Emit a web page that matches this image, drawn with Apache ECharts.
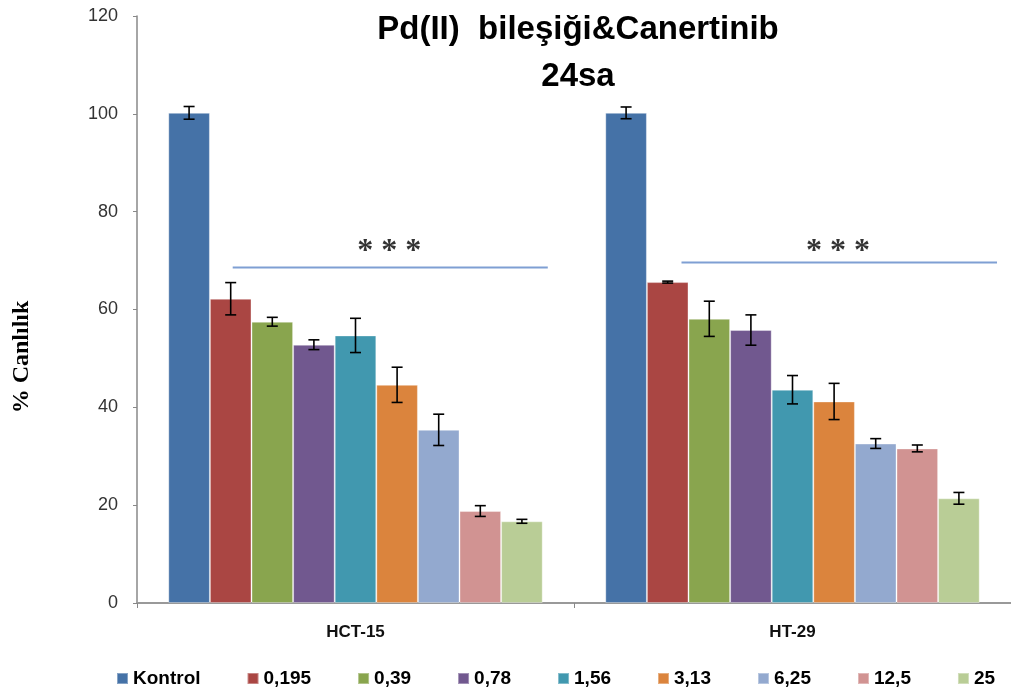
<!DOCTYPE html>
<html><head><meta charset="utf-8">
<script src="https://cdn.jsdelivr.net/npm/echarts@6/dist/echarts.min.js"></script>
<style>html,body{margin:0;padding:0;background:#fff}#c{width:1011px;height:695px}</style>
</head><body><div id="c"></div>
<script>
const categories = ['HCT-15', 'HT-29'];
const concentrations = ['Kontrol', '0,195', '0,39', '0,78', '1,56', '3,13', '6,25', '12,5', '25'];
const hct15Values = [100.2, 62.2, 57.5, 52.8, 54.7, 44.6, 35.4, 18.8, 16.7];
const hct15Errors = [1.3, 3.3, 0.9, 1.0, 3.5, 3.6, 3.2, 1.1, 0.4];
const ht29Values = [100.2, 65.6, 58.1, 55.8, 43.6, 41.2, 32.6, 31.6, 21.4];
const ht29Errors = [1.2, 0.2, 3.6, 3.1, 2.9, 3.7, 1.0, 0.7, 1.2];
const colors = ['#4572A7', '#AA4643', '#89A54E', '#71588F', '#4198AF', '#DB843D', '#93A9CF', '#D19392', '#B9CD96'];
const sigLines = [[[0.219, 68.6], [0.940, 68.6]], [[1.246, 69.6], [1.968, 69.6]]];
const sigStars = [[0.577, 72.8], [1.604, 72.8]];

const barFrac = 0.0952;
const series = concentrations.map((name, j) => ({
  name, type: 'bar', xAxisIndex: 0, yAxisIndex: 0,
  barWidth: (barFrac * 100) + '%', barGap: '0%',
  itemStyle: { color: colors[j], borderColor: 'rgba(255,255,255,0.35)', borderWidth: 1 },
  data: [hct15Values[j], ht29Values[j]]
}));

const errData = [];
concentrations.forEach((name, j) => {
  errData.push([0.5 + (j - 4) * barFrac, hct15Values[j], hct15Errors[j]]);
  errData.push([1.5 + (j - 4) * barFrac, ht29Values[j], ht29Errors[j]]);
});
series.push({
  type: 'custom', xAxisIndex: 1, yAxisIndex: 0, silent: true, z: 10,
  data: errData,
  renderItem: function (params, api) {
    const x = api.value(0), v = api.value(1), e = api.value(2);
    const top = api.coord([x, v + e]);
    const bot = api.coord([x, v - e]);
    const hw = 5.5;
    const st = { stroke: '#000', lineWidth: 1.6 };
    return { type: 'group', children: [
      { type: 'line', shape: { x1: top[0], y1: top[1], x2: bot[0], y2: bot[1] }, style: st },
      { type: 'line', shape: { x1: top[0] - hw, y1: top[1], x2: top[0] + hw, y2: top[1] }, style: st },
      { type: 'line', shape: { x1: bot[0] - hw, y1: bot[1], x2: bot[0] + hw, y2: bot[1] }, style: st }
    ]};
  }
});
sigLines.forEach(seg => series.push({
  type: 'line', xAxisIndex: 1, yAxisIndex: 0, data: seg, symbol: 'none', silent: true,
  lineStyle: { color: '#7F9FD3', width: 2 }, z: 5
}));
series.push({
  type: 'scatter', xAxisIndex: 1, yAxisIndex: 0, data: sigStars, symbolSize: 1, silent: true,
  itemStyle: { color: 'rgba(0,0,0,0)' },
  label: { show: true, position: 'inside', formatter: '* * *', fontFamily: 'Liberation Serif', fontWeight: 'bold', fontSize: 32, color: '#000', offset: [0, 5] }
});

const chart = echarts.init(document.getElementById('c'), null, { renderer: 'canvas' });
chart.setOption({
  animation: false,
  backgroundColor: '#fff',
  title: {
    text: 'Pd(II)  bileşiği&Canertinib\n24sa', left: 573, textAlign: 'center', top: 1,
    textStyle: { fontFamily: 'Liberation Sans', fontWeight: 'bold', fontSize: 33, lineHeight: 47, color: '#000' }
  },
  graphic: [{
    type: 'text', x: 22, y: 357, rotation: Math.PI / 2,
    style: { text: '% Canlılık', fontFamily: 'Liberation Serif', fontWeight: 'bold', fontSize: 24, fill: '#000', align: 'center', verticalAlign: 'middle' }
  }],
  grid: { left: 137, right: 0, top: 16, bottom: 92, containLabel: false },
  legend: {
    data: concentrations, top: 669, left: 116, width: 895, icon: 'rect', itemWidth: 11, itemHeight: 11, itemGap: 46, padding: 0,
    textStyle: { fontFamily: 'Liberation Sans', fontWeight: 'bold', fontSize: 19, color: '#000' }
  },
  xAxis: [
    { type: 'category', data: categories, boundaryGap: true,
      axisLine: { lineStyle: { color: '#999', width: 2 } },
      axisTick: { show: true, length: 5, lineStyle: { color: '#888' } },
      axisLabel: { margin: 21, fontFamily: 'Liberation Sans', fontWeight: 'bold', fontSize: 17, color: '#111' } },
    { type: 'value', min: 0, max: 2, show: false }
  ],
  yAxis: {
    type: 'value', min: 0, max: 120, interval: 20,
    axisLine: { show: true, lineStyle: { color: '#888', width: 1.5 } },
    axisTick: { show: true, length: 4, lineStyle: { color: '#888' } },
    splitLine: { show: false },
    axisLabel: { margin: 19, fontFamily: 'Liberation Sans', fontSize: 18, color: '#333' }
  },
  series
});
</script></body></html>
